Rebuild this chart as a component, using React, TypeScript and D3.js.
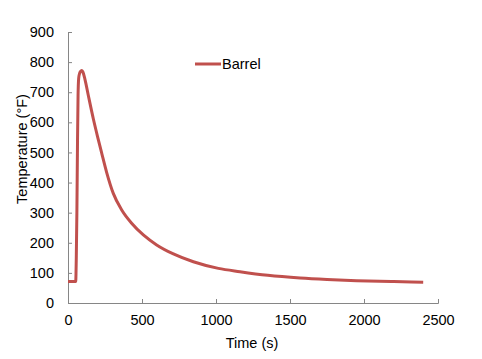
import React, { useEffect, useRef } from "react";
import * as d3 from "d3";

// time (s) and barrel temperature (°F)
const times = [
  0, 52, 56, 60, 64, 68, 72, 78, 85, 92, 100, 115, 137, 171, 200, 228, 261,
  306, 363, 430, 509, 599, 712, 847, 1016, 1162, 1350, 1568, 1750, 1950, 2200,
  2400,
];
const temps = [
  71, 71, 150, 300, 520, 690, 745, 762, 769, 772, 768, 742, 690, 612, 552,
  497, 434, 364, 309, 265, 226, 193, 163, 137, 115, 104, 92, 83, 78, 74, 71,
  69,
];
const xTicks = [0, 500, 1000, 1500, 2000, 2500];
const yTicks = [0, 100, 200, 300, 400, 500, 600, 700, 800, 900];
const seriesName = "Barrel";

const App: React.FC = () => {
  const svgRef = useRef(null);

  useEffect(() => {
    const w = 482;
    const h = 359;
    const font = "Arial, 'Liberation Sans', sans-serif";
    const fontSize = "14.5px";
    const axisColor = "#868686";
    const lineColor = "#c0504d";

    const svg = d3.select(svgRef.current).attr("width", w).attr("height", h);

    const xScale = d3.scaleLinear().domain([0, 2500]).range([68, 438]);
    const yScale = d3.scaleLinear().domain([0, 900]).range([303, 32]);

    // y axis, ticks pointing inward
    const yAxis = d3
      .axisLeft(yScale)
      .tickValues(yTicks)
      .tickSize(-4)
      .tickPadding(14)
      .tickFormat(d3.format("d"));
    const gy = svg
      .append("g")
      .attr("transform", `translate(${xScale(0)},0)`)
      .call(yAxis);
    gy.select(".domain").attr("stroke", axisColor);
    gy.selectAll(".tick line").attr("stroke", axisColor);
    gy.selectAll(".tick text")
      .attr("fill", "#000")
      .style("font-family", font)
      .style("font-size", fontSize);

    const xAxis = d3
      .axisBottom(xScale)
      .tickValues(xTicks)
      .tickSize(-4)
      .tickPadding(12)
      .tickFormat(d3.format("d"));
    const gx = svg
      .append("g")
      .attr("transform", `translate(0,${yScale(0)})`)
      .call(xAxis);
    gx.select(".domain").attr("stroke", axisColor);
    gx.selectAll(".tick line").attr("stroke", axisColor);
    gx.selectAll(".tick text")
      .attr("fill", "#000")
      .style("font-family", font)
      .style("font-size", fontSize);

    svg
      .append("text")
      .attr("x", 252)
      .attr("y", 348)
      .attr("text-anchor", "middle")
      .style("font-family", font)
      .style("font-size", fontSize)
      .text("Time (s)");

    svg
      .append("text")
      .attr("transform", "translate(27,149) rotate(-90)")
      .attr("text-anchor", "middle")
      .style("font-family", font)
      .style("font-size", fontSize)
      .text("Temperature (°F)");

    const data = times.map((t, i) => [t, temps[i]] as [number, number]);
    const line = d3
      .line<[number, number]>()
      .x((d) => xScale(d[0]))
      .y((d) => yScale(d[1]))
      .curve(d3.curveMonotoneX);

    svg
      .append("path")
      .datum(data)
      .attr("d", line)
      .attr("fill", "none")
      .attr("stroke", lineColor)
      .attr("stroke-width", 3)
      .attr("stroke-linejoin", "round");

    // legend
    svg
      .append("line")
      .attr("x1", 195)
      .attr("x2", 221)
      .attr("y1", 64)
      .attr("y2", 64)
      .attr("stroke", lineColor)
      .attr("stroke-width", 3);
    svg
      .append("text")
      .attr("x", 222)
      .attr("y", 69)
      .style("font-family", font)
      .style("font-size", fontSize)
      .text(seriesName);

    return () => {
      svg.selectAll("*").remove();
    };
  }, []);

  return (
    <svg
      ref={svgRef}
      style={{ position: "absolute", left: 0, top: 0, background: "#fff" }}
    />
  );
};

export default App;
